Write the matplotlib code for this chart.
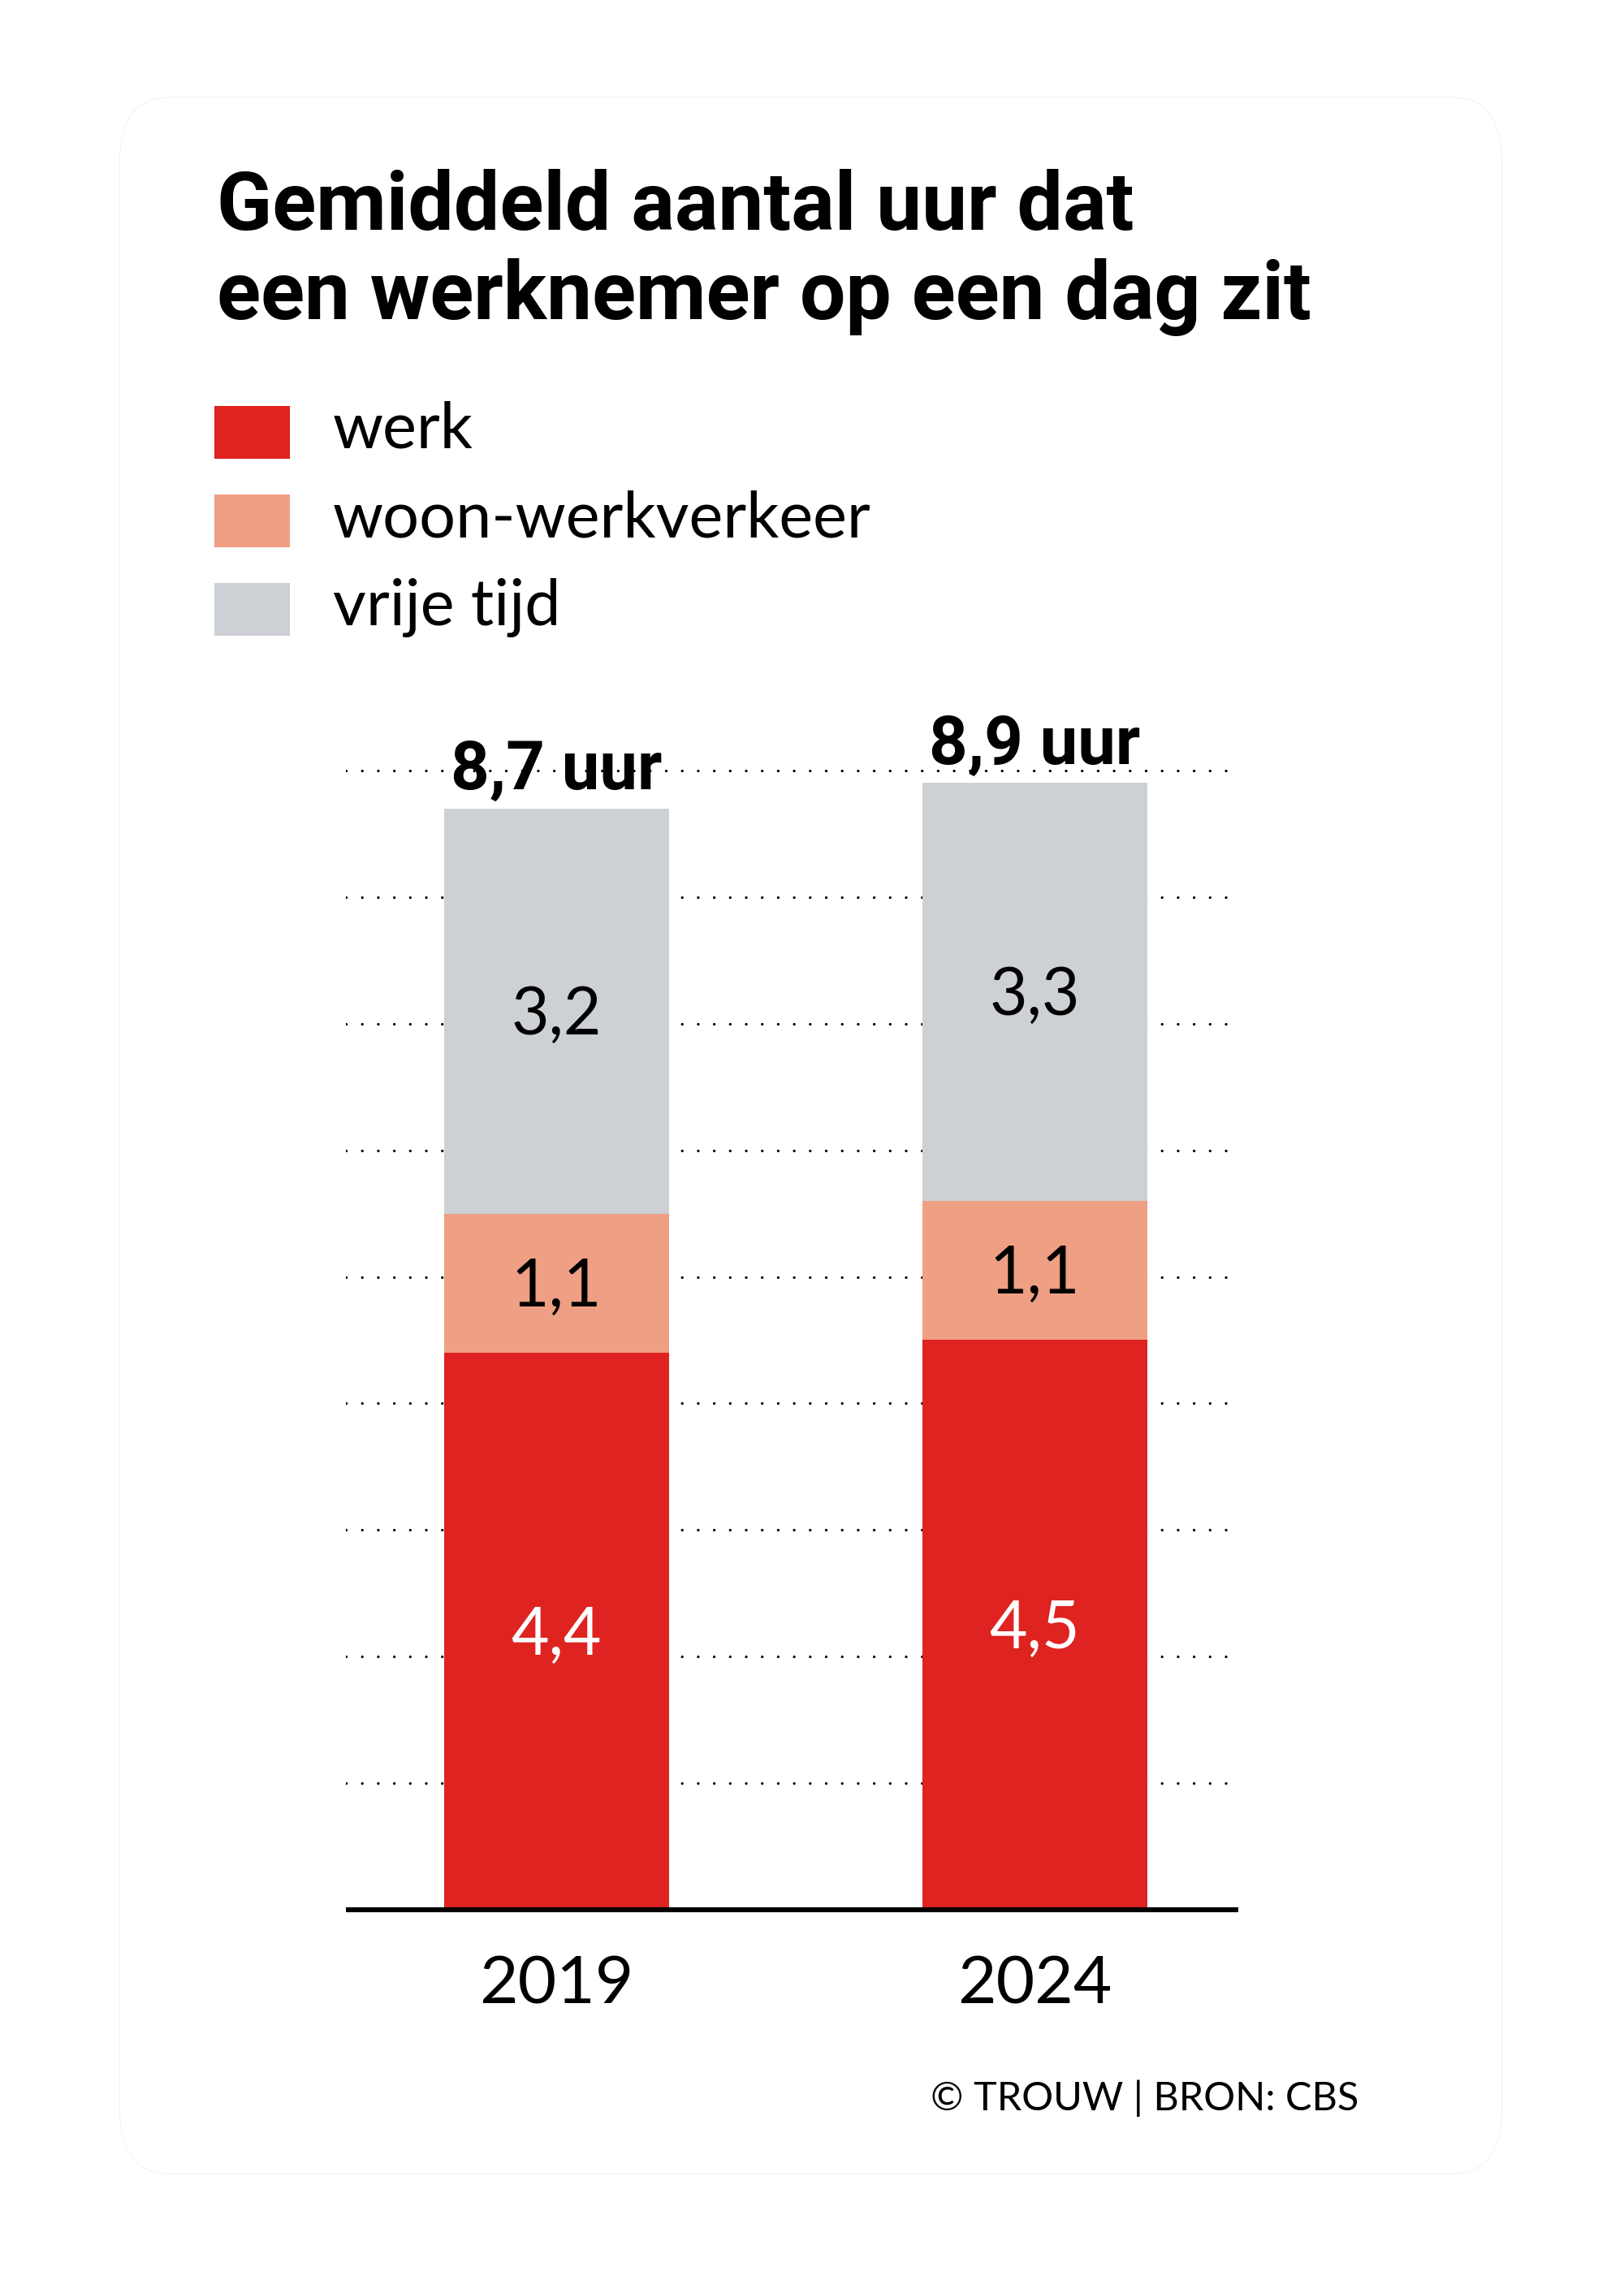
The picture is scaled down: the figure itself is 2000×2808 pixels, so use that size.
import matplotlib
matplotlib.use("Agg")
import matplotlib.pyplot as plt
from matplotlib.patches import FancyBboxPatch, Rectangle

# data
years = ["2019", "2024"]
werk = [4.4, 4.5]
woon = [1.1, 1.1]
vrije = [3.2, 3.3]
totals = [8.7, 8.9]
series_names = ["werk", "woon-werkverkeer", "vrije tijd"]
colors = ["#de2320", "#ee9f84", "#cdd0d4"]
label_colors = ["white", "black", "black"]

W, H = 2000, 2808
BOLD = "Roboto"
LIGHT = "Lato"


def fx(px):
    return px / W


def fy(py):
    return 1 - py / H


def nl(v):
    return f"{v:.1f}".replace(".", ",")


fig = plt.figure(figsize=(W / 100, H / 100), dpi=100)
fig.patch.set_facecolor("white")

# faint card behind everything
card = FancyBboxPatch((fx(147), fy(2677)), fx(1850) - fx(147), fy(120) - fy(2677),
                      boxstyle="round,pad=0,rounding_size=0.03",
                      transform=fig.transFigure, facecolor="none",
                      edgecolor="#f6f6f6", linewidth=1.2, zorder=-5)
fig.patches.append(card)

# title
fig.text(fx(267), fy(283), "Gemiddeld aantal uur dat", fontsize=72,
         fontweight="bold", family=BOLD, va="baseline", ha="left")
fig.text(fx(267), fy(393), "een werknemer op een dag zit", fontsize=72,
         fontweight="bold", family=BOLD, va="baseline", ha="left")

# legend
for i, (name, c) in enumerate(zip(series_names, colors)):
    top = 500 + i * 109
    fig.patches.append(Rectangle((fx(264), fy(top + 65)), fx(357) - fx(264), fy(top) - fy(top + 65),
                                 transform=fig.transFigure, facecolor=c, edgecolor="none"))
    fig.text(fx(410), fy(top + 52), name, fontsize=57, fontweight="normal",
             family=LIGHT, va="baseline", ha="left")

# chart
y0_px = 2352
unit = 155.9
ymax = 9.5
ax = fig.add_axes([fx(426), fy(y0_px), fx(1525) - fx(426), (ymax * unit) / H])
xlo = (426 - 685) / 589
xhi = (1525 - 685) / 589
ax.set_xlim(xlo, xhi)
ax.set_ylim(0, ymax)
ax.axis("off")

for h in range(1, 10):
    ax.plot([xlo, (1513 - 685) / 589], [h, h], color="black", lw=2.4,
            linestyle=(0, (0.01, 5.9)), dash_capstyle="round", zorder=1)

x = list(range(len(years)))
bw = 277 / 589
bottoms = [0.0] * len(years)
for vals, c, lc in zip([werk, woon, vrije], colors, label_colors):
    ax.bar(x, vals, bw, bottom=bottoms, color=c, edgecolor="none", zorder=2)
    for xi, v, b in zip(x, vals, bottoms):
        ax.annotate(nl(v), (xi, b + v / 2), xytext=(0, -4), textcoords="offset points",
                    ha="center", va="center", fontsize=58, fontweight="normal",
                    family=LIGHT, color=lc, zorder=4)
    bottoms = [b + v for b, v in zip(bottoms, vals)]

for xi, t in zip(x, totals):
    ax.annotate(f"{nl(t)} uur", (xi, t), xytext=(0, 17), textcoords="offset points",
                ha="center", va="baseline", fontsize=60, fontweight="bold",
                family=BOLD, zorder=5, annotation_clip=False)

ax.axhline(0, color="black", lw=4.4, solid_capstyle="butt", zorder=3, clip_on=False)

for xi, yr in zip(x, years):
    ax.annotate(yr, (xi, 0), xytext=(0, -83), textcoords="offset points",
                ha="center", va="baseline", fontsize=59, fontweight="normal",
                family=LIGHT, annotation_clip=False)

fig.text(fx(1673), fy(2599), "© TROUW | BRON: CBS", fontsize=35,
         fontweight="normal", family=LIGHT, ha="right", va="baseline")

fig.savefig("out.png", dpi=100, facecolor="white")
